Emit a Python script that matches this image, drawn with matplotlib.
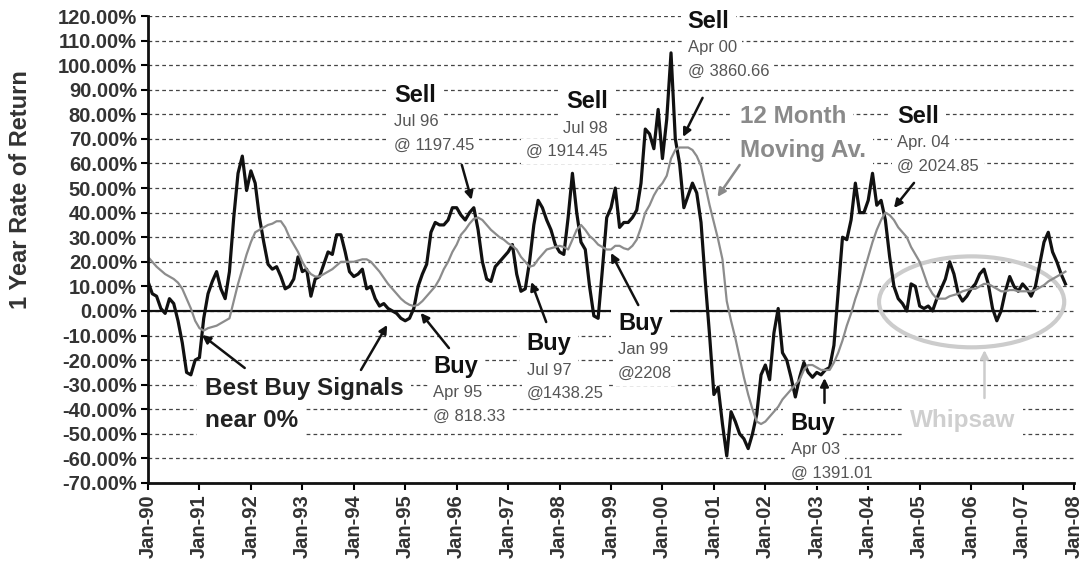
import numpy as np
import matplotlib.pyplot as plt
from matplotlib.patches import Ellipse

plt.rcParams['font.family'] = ['Liberation Sans', 'DejaVu Sans']

# monthly 1 year rate of return (%), Jan 1990 onwards
ret_1990 = [12, 7, 6, 1, -1, 5, 3, -4, -13, -25, -26, -20]
ret_1991 = [-19, -3, 7, 12, 16, 9, 5, 16, 38, 56, 63, 49]
ret_1992 = [57, 52, 38, 28, 19, 17, 18, 14, 9, 10, 13, 22]
ret_1993 = [16, 17, 6, 13, 14, 19, 24, 23, 31, 31, 24, 16]
ret_1994 = [14, 15, 17, 9, 10, 5, 2, 3, 1, 0, -1, -3]
ret_1995 = [-4, -3, 1, 10, 15, 19, 32, 36, 35, 35, 37, 42]
ret_1996 = [42, 39, 37, 40, 42, 33, 20, 13, 12, 18, 20, 22]
ret_1997 = [24, 27, 15, 8, 9, 20, 35, 45, 42, 37, 33, 27]
ret_1998 = [24, 23, 38, 56, 40, 28, 25, 10, -2, -3, 17, 38]
ret_1999 = [42, 50, 34, 36, 36, 38, 41, 52, 74, 72, 66, 82]
ret_2000 = [62, 78, 105, 70, 60, 42, 47, 52, 48, 36, 12, -10]
ret_2001 = [-34, -31, -46, -59, -41, -45, -50, -52, -56, -50, -42, -26]
ret_2002 = [-22, -28, -9, 1, -17, -20, -27, -35, -27, -21, -25, -27]
ret_2003 = [-25, -26, -24, -23, -14, 8, 30, 29, 37, 52, 40, 40]
ret_2004 = [45, 56, 43, 45, 37, 22, 10, 5, 3, 0, 11, 10]
ret_2005 = [2, 1, 2, 0, 5, 9, 13, 20, 15, 7, 4, 6]
ret_2006 = [9, 11, 15, 17, 11, 1, -4, 0, 8, 14, 10, 8]
ret_2007 = [11, 9, 6, 10, 19, 28, 32, 24, 20, 15, 11]

# 12 month moving average (%)
avg_1990 = [22, 20, 18, 16.5, 15, 14, 13, 11.5, 9, 5, 1, -4]
avg_1991 = [-7, -8, -7, -6.5, -6, -5, -4, -3, 4, 11, 17, 23]
avg_1992 = [28, 32, 33, 34, 35, 35.5, 36.5, 36.5, 34, 30, 27, 24]
avg_1993 = [20, 17, 15, 14, 14, 15, 16, 17, 18.5, 20, 20, 20]
avg_1994 = [20, 20.5, 21, 21, 20, 18, 16, 13.5, 11, 9, 7, 5]
avg_1995 = [3.5, 2.5, 2, 2.5, 4, 6, 8, 10, 13, 17, 20, 24]
avg_1996 = [27, 31, 33, 35.5, 37.5, 38, 37, 35, 33, 31.5, 30, 29]
avg_1997 = [27.5, 26.5, 25, 22, 20, 18, 18.5, 21, 23, 25, 25.5, 26]
avg_1998 = [26.5, 26, 25, 29, 33, 35, 33, 30.5, 29, 27, 26, 25]
avg_1999 = [25, 26.5, 26.5, 25.5, 25, 26.5, 29, 34, 40, 43, 47, 50]
avg_2000 = [52, 55, 62, 65.5, 66.5, 66.5, 66.5, 65.5, 63, 59, 51, 43]
avg_2001 = [36, 29, 21, 4, -4, -11, -19, -27, -34, -40, -45, -46]
avg_2002 = [-45, -43, -41, -39, -36, -34, -32, -30, -28, -24, -22, -22]
avg_2003 = [-23, -24, -24, -24, -21, -17, -12, -6, -1, 5, 10, 16]
avg_2004 = [22, 28, 33, 37, 40, 39, 37, 34, 32, 30, 26, 23]
avg_2005 = [20, 15, 10, 7, 5, 5, 5, 6, 6.5, 7, 8, 8.5]
avg_2006 = [9, 9, 10, 11, 11, 10, 9, 8, 8, 8.5, 8.5, 8]
avg_2007 = [8, 8, 8, 8.5, 9.5, 10.5, 12, 13, 14, 15, 16]

one_year_return = (ret_1990 + ret_1991 + ret_1992 + ret_1993 + ret_1994 + ret_1995
                   + ret_1996 + ret_1997 + ret_1998 + ret_1999 + ret_2000 + ret_2001
                   + ret_2002 + ret_2003 + ret_2004 + ret_2005 + ret_2006 + ret_2007)
moving_avg = (avg_1990 + avg_1991 + avg_1992 + avg_1993 + avg_1994 + avg_1995
              + avg_1996 + avg_1997 + avg_1998 + avg_1999 + avg_2000 + avg_2001
              + avg_2002 + avg_2003 + avg_2004 + avg_2005 + avg_2006 + avg_2007)

start_year = 1990
months = start_year + np.arange(len(one_year_return)) / 12
zero_end = 2007.25  # zero line stops here

tick_years = list(range(1990, 2009))
tick_labels = ['Jan-90', 'Jan-91', 'Jan-92', 'Jan-93', 'Jan-94', 'Jan-95', 'Jan-96',
               'Jan-97', 'Jan-98', 'Jan-99', 'Jan-00', 'Jan-01', 'Jan-02', 'Jan-03',
               'Jan-04', 'Jan-05', 'Jan-06', 'Jan-07', 'Jan-08']
y_ticks = list(range(-70, 121, 10))

fig = plt.figure(figsize=(10.83, 5.64), dpi=100)
ax = fig.add_axes([148 / 1083, 81 / 564, 926 / 1083, 467 / 564])

ax.plot(months, one_year_return, color='#111111', lw=2.3, zorder=4, solid_joinstyle='round')
ax.plot(months, moving_avg, color='#8c8c8c', lw=1.6, zorder=4)
ax.plot([start_year, zero_end], [0, 0], color='#111111', lw=1.6, zorder=2.5)

ax.set_xlim(1990, 2008)
ax.set_ylim(-70, 120)
ax.set_yticks(y_ticks)
ax.set_yticklabels(['%.2f%%' % v for v in y_ticks], fontsize=14.5, fontweight='bold', color='#333333')
ax.set_xticks(tick_years)
ax.set_xticklabels(tick_labels, rotation=90, fontsize=14.5, fontweight='bold', color='#333333')
ax.tick_params(direction='out', length=5, width=1.5, pad=3)

ax.yaxis.grid(True, linestyle=(0, (3, 2.5)), color='#444444', lw=0.9)
ax.set_axisbelow(True)
for s in ['top', 'right']:
    ax.spines[s].set_visible(False)
for s in ['left', 'bottom']:
    ax.spines[s].set_linewidth(2)
    ax.spines[s].set_color('#111111')
    ax.spines[s].set_zorder(6)

fig.text(21 / 1083, 1 - 190 / 564, '1 Year Rate of Return', rotation=90, ha='center', va='center',
         fontsize=17, fontweight='bold', color='#333333')

box = dict(boxstyle='square,pad=0.3', fc='white', ec='none')


def signal(x, y, head, when, price, ha='left'):
    ax.text(x, y, head, fontsize=17, fontweight='bold', color='#111111', ha=ha, va='baseline', bbox=box, zorder=3)
    ax.text(x, y - 10.0, when, fontsize=12, color='#555555', ha=ha, va='baseline', bbox=box, zorder=3)
    ax.text(x, y - 19.4, price, fontsize=12, color='#555555', ha=ha, va='baseline', bbox=box, zorder=3)


signal(1994.78, 85.1, 'Sell', 'Jul 96', '@ 1197.45')
signal(1998.94, 82.6, 'Sell', 'Jul 98', '@ 1914.45', ha='right')
signal(2000.49, 115.2, 'Sell', 'Apr 00', '@ 3860.66')
signal(2004.56, 76.5, 'Sell', 'Apr. 04', '@ 2024.85')
signal(1995.54, -25.2, 'Buy', 'Apr 95', '@ 818.33')
signal(1997.36, -15.9, 'Buy', 'Jul 97', '@1438.25')
signal(1999.14, -7.7, 'Buy', 'Jan 99', '@2208')
signal(2002.49, -48.4, 'Buy', 'Apr 03', '@ 1391.01')

ax.text(1991.10, -34.2, 'Best Buy Signals', fontsize=17.5, fontweight='bold', color='#222222',
        va='baseline', bbox=box, zorder=3)
ax.text(1991.10, -47.2, 'near 0%', fontsize=17.5, fontweight='bold', color='#222222',
        va='baseline', bbox=box, zorder=3)
ax.text(2001.50, 76.5, '12 Month', fontsize=17.5, fontweight='bold', color='#8a8a8a',
        va='baseline', bbox=box, zorder=3)
ax.text(2001.50, 62.7, 'Moving Av.', fontsize=17.5, fontweight='bold', color='#8a8a8a',
        va='baseline', bbox=box, zorder=3)
ax.text(2004.81, -47.2, 'Whipsaw', fontsize=17.5, fontweight='bold', color='#cfcfcf',
        va='baseline', bbox=box, zorder=3)

ax.add_patch(Ellipse((2006.01, 3.7), 3.60, 37.0, fill=False, ec='#cccccc', lw=3, zorder=3.5))

arrows = [  # tail, head, colour
    ((1991.88, -23.2), (1991.05, -9.8), '#111111'),
    ((1994.14, -24.0), (1994.65, -5.7), '#111111'),
    ((1995.85, -15.1), (1995.30, -0.8), '#111111'),
    ((1997.74, -4.5), (1997.45, 11.8), '#111111'),
    ((1999.53, 2.4), (1999.00, 23.6), '#111111'),
    ((2003.15, -37.4), (2003.15, -27.3), '#111111'),
    ((1996.10, 59.4), (1996.29, 45.2), '#111111'),
    ((2000.78, 86.7), (2000.40, 70.8), '#111111'),
    ((2001.50, 59.4), (2001.07, 46.4), '#8a8a8a'),
    ((2004.89, 52.1), (2004.50, 41.9), '#111111'),
    ((2006.26, -35.4), (2006.26, -15.9), '#cccccc'),
]
for tail, head, c in arrows:
    ax.annotate('', xy=head, xytext=tail, zorder=5,
                arrowprops=dict(arrowstyle='-|>', color=c, lw=1.8, mutation_scale=12,
                                shrinkA=0, shrinkB=0))

fig.savefig('out.png', dpi=100)
